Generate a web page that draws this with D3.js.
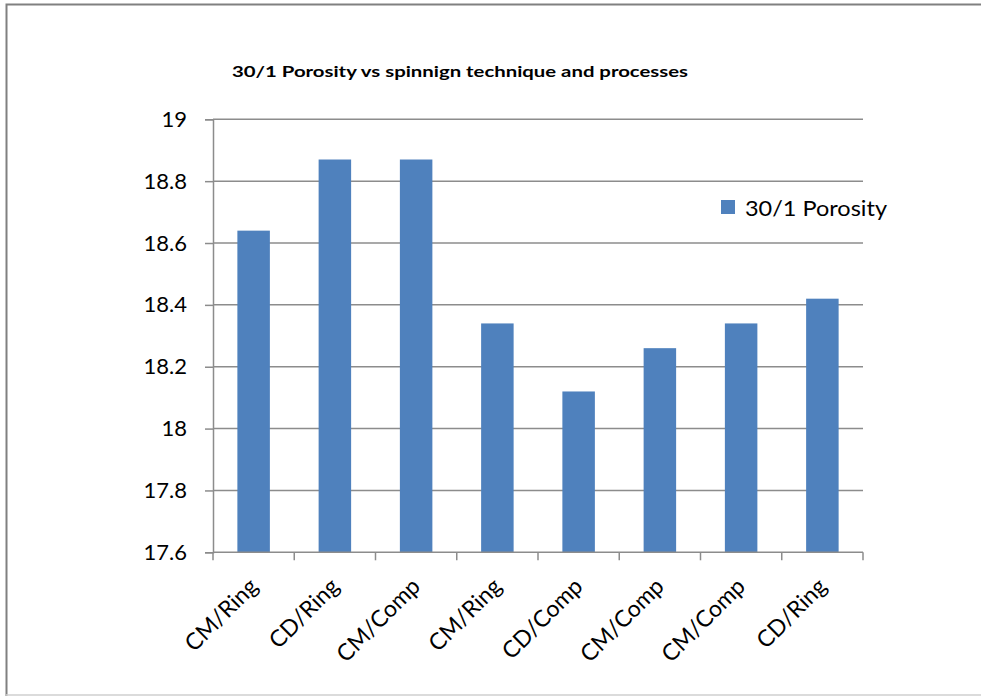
<!DOCTYPE html>
<html>
<head>
<meta charset="utf-8">
<script src="https://cdn.jsdelivr.net/npm/d3@7"></script>
<style>
  html, body { margin: 0; padding: 0; background: #fff; }
  svg { display: block; }
  text { font-family: Lato, "Open Sans", sans-serif; fill: #000; }
</style>
</head>
<body>
<svg id="chart" width="981" height="696"></svg>
<script>
// Porosity of 30/1 yarn by spinning technique / process
const categories = ["CM/Ring", "CD/Ring", "CM/Comp", "CM/Ring", "CD/Comp", "CM/Comp", "CM/Comp", "CD/Ring"];
const porosity = [18.64, 18.87, 18.87, 18.34, 18.12, 18.26, 18.34, 18.42];
const yTicks = [17.6, 17.8, 18, 18.2, 18.4, 18.6, 18.8, 19];
const seriesName = "30/1 Porosity";
const titleText = "30/1 Porosity  vs spinnign technique and processes";

const svg = d3.select("#chart");
const plot = { left: 213, right: 863, top: 119.3, bottom: 552.3 };
const barColor = "#4F81BD";
const gridColor = "#8c8c8c";

// chart frame
svg.append("path")
  .attr("d", "M6.5,700 V4.5 H990")
  .attr("fill", "none").attr("stroke", "#808080").attr("stroke-width", 2);
svg.append("line")
  .attr("x1", 6).attr("x2", 981).attr("y1", 695).attr("y2", 695)
  .attr("stroke", "#cfcfcf").attr("stroke-width", 1.5);

const x = d3.scaleBand()
  .domain(d3.range(categories.length))
  .range([plot.left, plot.right])
  .paddingInner(0.6).paddingOuter(0.3);

const y = d3.scaleLinear()
  .domain([17.6, 19])
  .range([plot.bottom, plot.top]);

// horizontal gridlines + y axis labels
const yAxis = d3.axisLeft(y).tickValues(yTicks).tickSize(8).tickPadding(18)
  .tickFormat(d3.format("~g"));
const gy = svg.append("g").attr("transform", `translate(${plot.left},0)`).call(yAxis);
gy.select(".domain").attr("stroke", gridColor).attr("stroke-width", 1.5);
gy.selectAll(".tick line").attr("stroke", gridColor).attr("stroke-width", 1.5);
gy.selectAll(".tick text").attr("font-size", 22).attr("font-family", "Lato, sans-serif");

svg.append("g").selectAll("line").data(yTicks.slice(1)).join("line")
  .attr("x1", plot.left).attr("x2", plot.right)
  .attr("y1", d => y(d)).attr("y2", d => y(d))
  .attr("stroke", gridColor).attr("stroke-width", 1.5);

// bars
svg.append("g").selectAll("rect").data(porosity).join("rect")
  .attr("x", (d, i) => x(i))
  .attr("width", x.bandwidth())
  .attr("y", d => y(d))
  .attr("height", d => y(17.6) - y(d))
  .attr("fill", barColor);

// category axis
const step = x.step();
const tickPositions = d3.range(categories.length + 1).map(i => plot.left + i * step);
const gx = svg.append("g");
gx.append("line")
  .attr("x1", plot.left).attr("x2", plot.right)
  .attr("y1", plot.bottom).attr("y2", plot.bottom)
  .attr("stroke", gridColor).attr("stroke-width", 1.5);
gx.selectAll("line.tk").data(tickPositions).join("line").attr("class", "tk")
  .attr("x1", d => d).attr("x2", d => d)
  .attr("y1", plot.bottom).attr("y2", plot.bottom + 8)
  .attr("stroke", gridColor).attr("stroke-width", 1.5);
gx.selectAll("text").data(categories).join("text")
  .attr("transform", (d, i) => `translate(${x(i) + x.bandwidth() / 2 - 6},${plot.bottom + 24}) rotate(-45)`)
  .attr("text-anchor", "end")
  .attr("dy", "0.71em")
  .attr("font-size", 23)
  .text(d => d);

// title
svg.append("text")
  .attr("x", 232).attr("y", 77)
  .attr("font-size", 15).attr("font-weight", "bold")
  .attr("textLength", 456).attr("lengthAdjust", "spacingAndGlyphs")
  .text(titleText);

// legend
svg.append("rect").attr("x", 721).attr("y", 200).attr("width", 14).attr("height", 14).attr("fill", barColor);
svg.append("text").attr("x", 745).attr("y", 216).attr("font-size", 22)
  .attr("textLength", 142).attr("lengthAdjust", "spacingAndGlyphs")
  .text(seriesName);
</script>
</body>
</html>
